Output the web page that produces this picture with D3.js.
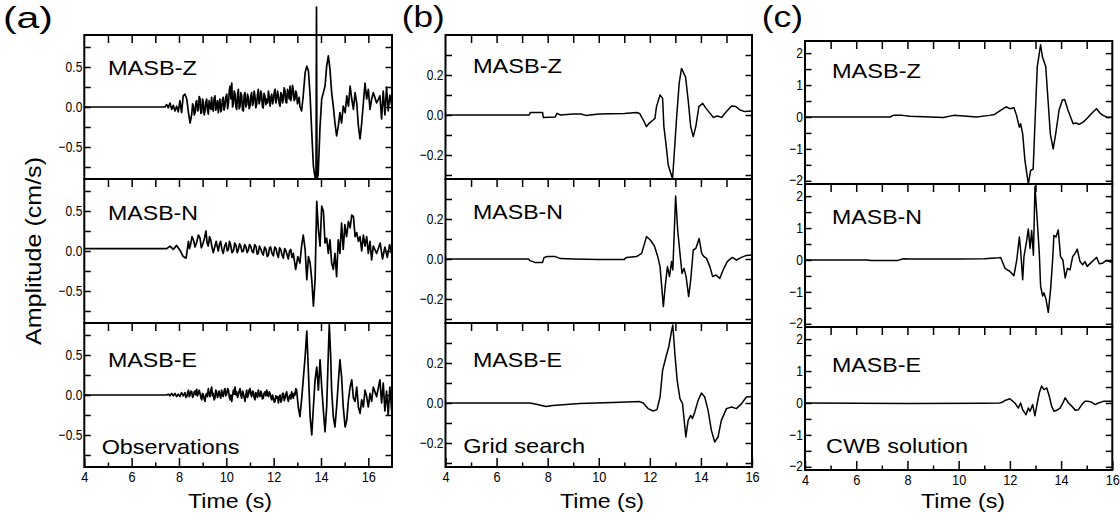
<!DOCTYPE html>
<html>
<head>
<meta charset="utf-8">
<script src="https://cdn.jsdelivr.net/npm/d3@7"></script>
<style>
  body { margin: 0; background: #fff; }
  svg { display: block; }
</style>
</head>
<body>
<script>
// ---- Station components, panel letters and captions ----
const components = ["MASB-Z", "MASB-N", "MASB-E"];
const panelLetters = ["(a)", "(b)", "(c)"];
const panelNotes = ["Observations", "Grid search", "CWB solution"];

// ---- Axis extents and ticks ----
const timeDomainA = [4, 17];
const timeDomainBC = [4, 16];
const timeMajorTicks = [4, 6, 8, 10, 12, 14, 16];
const timeMinorTicksA = [5, 7, 9, 11, 13, 15, 17];
const timeMinorTicksBC = [5, 7, 9, 11, 13, 15];

const ampDomainA = [-0.9, 0.9];
const ampTicksA = [-0.75, -0.5, -0.25, 0, 0.25, 0.5, 0.75];
const ampLabelsA = [-0.5, 0, 0.5];

const ampDomainB = [-0.32, 0.4];
const ampTicksB = [-0.3, -0.2, -0.1, 0, 0.1, 0.2, 0.3];
const ampLabelsB = [-0.2, 0, 0.2];

const ampDomainC = [-2.1, 2.38];
const ampTicksC = [-2, -1.5, -1, -0.5, 0, 0.5, 1, 1.5, 2];
const ampLabelsC = [-2, -1, 0, 1, 2];

// ---- Velocity records [time (s), amplitude (cm/s)] ----
// (a) observed
const obsZ = [[4,0],[7.41,0],[7.48,0.03],[7.55,-0.01],[7.62,0.05],[7.69,-0.03],[7.76,0.02],[7.83,-0.05],[7.9,0.01],[7.97,-0.06],[8.04,0.08],[8.11,-0.07],[8.18,0.14],[8.25,0.16],[8.33,0.1],[8.4,-0.07],[8.47,-0.2],[8.54,-0.09],
[8.575,0.04],[8.61,0.01],[8.645,-0.1],[8.68,-0.07],[8.715,0.06],[8.75,0.08],[8.785,-0.05],[8.82,-0.03],[8.855,0.13],[8.89,0.1],[8.925,-0.08],[8.96,-0.07],[8.995,0.1],[9.03,0.05],[9.065,-0.1],[9.1,-0.05],[9.135,0.06],[9.17,0.1],[9.205,-0.04],[9.24,-0.09],[9.275,0.08],[9.31,0.01],[9.345,-0.03],[9.38,0.12],[9.415,-0.02],[9.45,-0.05],[9.485,0.11],[9.52,0.14],[9.555,-0.04],[9.59,0.01],[9.625,0.08],[9.66,-0.07],[9.695,0.04],[9.73,0.1],[9.765,-0.06],[9.8,-0.03],[9.835,0.09],[9.87,0.12],[9.905,-0.04],[9.94,0.01],[9.98,0.13],[10.02,0.16],[10.055,-0.02],[10.09,0.05],[10.125,0.2],[10.16,0.26],[10.195,0.1],[10.23,0.3],[10.265,0.0],[10.3,0.05],[10.335,0.2],[10.37,0.16],[10.405,0.0],[10.44,-0.03],[10.475,0.16],[10.51,0.22],[10.545,-0.02],[10.58,0.01],[10.615,0.18],[10.65,0.14],[10.685,-0.04],[10.72,-0.05],[10.755,0.15],[10.79,0.18],[10.825,0.0],[10.86,0.03],[10.895,0.16],[10.93,0.12],[10.965,-0.02],[11.0,0.01],[11.035,0.14],[11.07,0.18],[11.105,0.02],[11.14,0.05],[11.175,0.2],[11.21,0.14],[11.245,-0.01],[11.28,0.03],[11.315,0.15],[11.35,0.22],[11.385,0.04],[11.42,0.08],[11.455,0.2],[11.49,0.16],[11.525,0.0],[11.56,-0.01],[11.595,0.17],[11.63,0.14],[11.67,0.03],[11.71,0.1],[11.745,0.05],[11.78,0.2],[11.815,0.12],[11.85,0.01],[11.885,0.12],[11.92,0.16],[11.955,0.04],[11.99,0.08],[12.025,0.19],[12.06,0.22],[12.095,0.05],[12.13,0.1],[12.165,0.2],[12.2,0.14],[12.235,0.04],[12.27,0.01],[12.305,0.18],[12.34,0.16],[12.375,0.05],[12.41,0.1],[12.445,0.24],[12.48,0.2],[12.515,0.06],[12.55,0.05],[12.585,0.22],[12.62,0.18],[12.655,0.1],[12.69,0.26],[12.725,0.08],[12.76,0.14],[12.795,0.27],[12.83,0.22],[12.865,0.08],[12.9,0.1],[12.935,0.2],[12.97,0.16],[13.005,0.04],[13.04,0.08],[13.075,0.12],[13.11,0.01],
[13.18,-0.05],[13.25,0.14],[13.33,0.43],[13.4,0.51],[13.47,0.45],[13.54,0.14],[13.61,-0.32],[13.68,-0.74],[13.75,-0.88],[13.79,-0.9],[13.81,1.25],[13.83,-0.9],[13.88,-0.85],[13.96,-0.24],[14.03,0.1],[14.1,0.18],[14.17,0.26],[14.24,0.51],[14.31,0.64],[14.38,0.47],[14.45,0.18],[14.52,0.01],[14.59,-0.2],[14.66,-0.36],[14.73,-0.24],[14.8,-0.07],[14.87,-0.2],[14.94,0.01],[15.02,-0.07],[15.09,0.14],[15.16,0.01],[15.23,0.26],[15.3,0.1],[15.37,-0.03],[15.44,0.18],[15.51,0.05],[15.58,-0.24],[15.65,-0.4],[15.72,-0.2],[15.79,0.05],[15.86,0.3],[15.93,0.1],[16.0,0.22],[16.07,-0.03],[16.14,0.1],[16.21,0.18],[16.35,0.05],[16.49,0.14],[16.56,-0.15],[16.63,0.2],[16.7,-0.1],[16.77,0.25],[16.84,-0.05],[16.91,0.15],[17.0,0.0]];

const obsN = [[4,0.03],[7.48,0.03],[7.62,0.06],[7.76,0.02],[7.9,0.07],[8.04,0.01],[8.18,-0.07],[8.3,-0.09],
[8.4,0.12],[8.445,0.03],[8.49,0.08],[8.55,0.18],[8.61,0.14],[8.68,0.05],[8.75,0.11],[8.82,0.2],[8.89,0.16],[8.945,0.04],[9.0,0.08],[9.07,0.15],[9.14,0.25],[9.19,0.1],[9.24,0.06],[9.29,0.18],[9.34,0.14],[9.395,0.05],[9.45,-0.02],[9.51,0.05],[9.57,0.12],[9.615,0.06],[9.66,0.0],[9.71,0.08],[9.76,0.12],[9.815,0.02],[9.87,-0.03],[9.93,0.06],[9.99,0.1],[10.04,0.0],[10.09,0.02],[10.135,0.12],[10.18,0.08],[10.24,-0.02],[10.3,0.0],[10.355,0.1],[10.41,0.07],[10.46,-0.02],[10.51,0.02],[10.56,0.09],[10.61,0.06],[10.665,-0.01],[10.72,0.0],[10.775,0.08],[10.83,0.05],[10.88,-0.02],[10.93,0.01],[10.98,0.08],[11.03,0.06],[11.085,0.0],[11.14,-0.02],[11.2,0.08],[11.26,0.05],[11.305,-0.04],[11.35,-0.03],[11.4,0.06],[11.45,0.03],[11.505,-0.02],[11.56,-0.05],[11.62,0.05],[11.68,0.02],[11.73,-0.07],[11.78,-0.05],[11.825,0.04],[11.87,0.05],[11.93,-0.03],[11.99,-0.06],[12.045,0.05],[12.1,0.03],[12.15,-0.04],[12.2,-0.08],[12.25,0.04],[12.3,0.02],[12.355,-0.05],[12.41,-0.09],[12.465,0.03],[12.52,0.0],[12.57,-0.05],[12.62,-0.1],[12.67,0.0],[12.72,0.02],[12.775,-0.08],[12.83,-0.03],
[12.93,-0.23],[13.02,-0.07],[13.11,-0.15],[13.18,0.06],[13.25,0.2],[13.33,0.02],[13.4,-0.36],[13.47,-0.07],[13.54,-0.15],[13.61,-0.36],[13.68,-0.69],[13.75,-0.36],[13.82,0.62],[13.89,0.27],[13.96,0.06],[14.03,0.56],[14.1,0.5],[14.17,0.1],[14.24,0.16],[14.31,-0.03],[14.38,0.14],[14.45,-0.15],[14.52,-0.23],[14.59,-0.03],[14.66,-0.32],[14.73,0.14],[14.8,-0.03],[14.87,0.35],[14.94,0.02],[15.01,0.33],[15.08,0.18],[15.16,0.37],[15.23,0.29],[15.3,0.45],[15.37,0.43],[15.44,0.18],[15.51,0.23],[15.58,0.12],[15.65,0.18],[15.72,0.0],[15.79,0.2],[15.86,0.06],[15.93,0.18],[16.0,-0.03],[16.07,0.12],[16.14,-0.11],[16.21,0.06],[16.35,-0.03],[16.5,0.1],[16.6,-0.1],[16.7,0.05],[16.8,-0.08],[16.9,0.08],[17.0,-0.05]];

const obsE = [[4,0],[7.48,0],[7.55,0.01],[7.62,-0.01],[7.69,0.02],[7.76,-0.01],[7.83,0.02],[7.9,-0.02],[7.97,0.01],[8.04,-0.02],[8.11,0.03],[8.18,-0.01],
[8.25,0.03],[8.29,-0.03],[8.33,-0.02],[8.365,0.03],[8.4,0.06],[8.435,-0.02],[8.47,0.0],[8.505,0.05],[8.54,0.04],[8.575,-0.03],[8.61,-0.01],[8.645,0.04],[8.68,0.05],[8.715,0.0],[8.75,0.07],[8.785,-0.01],[8.82,0.02],[8.855,0.06],[8.89,0.02],[8.925,-0.03],[8.96,-0.06],[8.995,0.02],[9.03,0.0],[9.065,-0.05],[9.1,-0.08],[9.135,0.0],[9.17,0.02],[9.205,-0.02],[9.24,0.08],[9.275,0.02],[9.31,-0.02],[9.345,0.05],[9.38,0.1],[9.415,-0.01],[9.45,0.02],[9.485,-0.06],[9.52,-0.04],[9.555,0.06],[9.59,0.04],[9.625,-0.03],[9.66,0.0],[9.695,0.05],[9.73,-0.01],[9.765,-0.04],[9.8,0.06],[9.835,0.0],[9.87,-0.02],[9.905,0.05],[9.94,0.08],[9.98,-0.01],[10.02,0.02],[10.055,0.08],[10.09,0.06],[10.125,-0.02],[10.16,-0.06],[10.195,0.0],[10.23,-0.08],[10.265,0.0],[10.3,0.06],[10.335,0.01],[10.37,0.1],[10.405,0.0],[10.44,0.04],[10.475,-0.03],[10.51,0.0],[10.545,0.05],[10.58,0.08],[10.615,0.0],[10.65,-0.04],[10.685,0.05],[10.72,0.02],[10.755,-0.03],[10.79,-0.08],[10.825,0.0],[10.86,0.06],[10.895,-0.03],[10.93,0.0],[10.965,0.06],[11.0,0.08],[11.035,0.01],[11.07,-0.02],[11.105,0.05],[11.14,0.04],[11.175,-0.03],[11.21,-0.06],[11.245,0.03],[11.28,0.0],[11.315,-0.03],[11.35,0.06],[11.385,0.0],[11.42,-0.02],[11.455,0.05],[11.49,0.02],[11.525,-0.05],[11.56,-0.04],[11.595,0.02],[11.63,0.04],[11.67,-0.01],[11.71,0.06],[11.745,0.0],[11.78,-0.02],[11.815,0.04],[11.85,0.02],[11.885,-0.03],[11.92,-0.06],[11.955,0.0],[11.99,-0.04],[12.025,-0.09],[12.06,-0.08],[12.095,-0.01],[12.13,-0.04],[12.165,-0.02],[12.2,-0.1],[12.235,-0.03],[12.27,0.0],[12.305,-0.09],[12.34,-0.06],[12.375,0.02],[12.41,0.02],[12.445,-0.07],[12.48,-0.04],[12.515,0.01],[12.55,0.04],[12.585,-0.04],[12.62,-0.08],[12.655,-0.02],[12.69,0.0],[12.725,-0.05],[12.76,0.04],[12.795,0.0],[12.83,-0.04],[12.865,0.02],[12.9,0.0],[12.935,0.08],[12.97,0.06],
[13.04,-0.15],[13.11,-0.27],[13.18,-0.06],[13.25,0.19],[13.33,0.48],[13.4,0.8],[13.47,0.27],[13.54,-0.27],[13.61,-0.5],[13.68,-0.15],[13.75,0.19],[13.82,0.35],[13.89,0.06],[13.96,0.44],[14.03,0.1],[14.1,-0.19],[14.17,-0.46],[14.24,-0.15],[14.31,0.52],[14.35,0.88],[14.41,0.48],[14.45,0.06],[14.52,-0.27],[14.59,-0.4],[14.66,-0.15],[14.73,0.15],[14.8,0.44],[14.87,0.23],[14.94,-0.15],[15.02,-0.4],[15.09,-0.31],[15.16,-0.06],[15.23,0.1],[15.3,0.19],[15.37,-0.04],[15.44,-0.08],[15.51,0.1],[15.58,-0.15],[15.65,-0.23],[15.72,-0.06],[15.79,-0.15],[15.86,0.06],[15.93,-0.02],[16.0,-0.15],[16.07,0.02],[16.14,-0.08],[16.21,0.1],[16.35,-0.02],[16.49,0.19],[16.56,-0.1],[16.63,0.15],[16.7,-0.2],[16.77,0.05],[16.84,-0.25],[16.91,0.1],[17.0,-0.25]];

// (b) grid-search synthetics
const gridZ = [[4,0],[7.28,0],[7.32,0.013],[7.8,0.013],[7.83,-0.012],[8.3,-0.01],[8.36,0.008],[8.5,0.0],[9.0,0.005],[9.3,0.005],[9.5,-0.002],[10.0,0.005],[11.0,0.008],[11.48,0.012],[11.6,0.008],[11.74,-0.025],[11.87,-0.058],[12.0,-0.038],[12.13,-0.025],[12.2,-0.017],[12.26,0.042],[12.4,0.1],[12.5,0.083],[12.55,-0.058],[12.63,-0.142],[12.72,-0.25],[12.89,-0.32],[13.05,-0.01],[13.15,0.16],[13.24,0.233],[13.4,0.19],[13.5,0.075],[13.6,-0.058],[13.7,-0.108],[13.8,-0.058],[13.92,0.042],[14.07,0.058],[14.2,0.033],[14.36,0.008],[14.49,-0.012],[14.64,-0.005],[14.81,-0.012],[15.0,0.017],[15.2,0.045],[15.37,0.042],[15.53,0.025],[15.72,0.017],[16.0,0.02]];

const gridN = [[4,0],[7.25,0],[7.3,-0.008],[7.5,-0.017],[7.8,-0.017],[7.86,0.008],[8.0,0.012],[8.3,0.012],[8.5,0.002],[9.0,0.0],[10.0,-0.003],[11.0,-0.002],[11.09,0.008],[11.48,0.012],[11.68,0.028],[11.87,0.112],[12.02,0.095],[12.18,0.065],[12.31,0.012],[12.4,-0.038],[12.53,-0.238],[12.6,-0.138],[12.69,-0.038],[12.77,-0.088],[12.85,-0.013],[12.9,-0.055],[13.01,0.315],[13.09,0.145],[13.18,0.028],[13.26,-0.072],[13.34,-0.047],[13.42,-0.088],[13.52,-0.188],[13.6,-0.105],[13.7,0.045],[13.8,0.053],[13.93,0.103],[14.03,0.028],[14.12,0.012],[14.22,0.003],[14.35,-0.038],[14.46,-0.088],[14.59,-0.08],[14.74,-0.097],[14.87,-0.055],[15.03,-0.013],[15.23,0.008],[15.39,-0.005],[15.59,0.008],[15.78,0.018],[16.0,0.02]];

const gridE = [[4,0],[7.3,0],[7.6,-0.008],[7.93,-0.017],[8.2,-0.012],[9.25,-0.003],[10.55,0.003],[11.6,0.007],[11.74,0.0],[11.93,-0.028],[12.13,-0.04],[12.28,-0.033],[12.4,0.03],[12.5,0.163],[12.63,0.23],[12.74,0.28],[12.85,0.36],[12.9,0.39],[12.98,0.247],[13.07,0.113],[13.18,0.022],[13.28,-0.003],[13.41,-0.17],[13.5,-0.087],[13.6,-0.062],[13.67,-0.078],[13.76,-0.045],[13.89,0.013],[14.02,0.05],[14.15,0.03],[14.28,-0.037],[14.41,-0.137],[14.54,-0.195],[14.67,-0.17],[14.8,-0.087],[15.0,-0.028],[15.2,-0.02],[15.39,-0.028],[15.59,-0.003],[15.78,0.03],[16.0,0.033]];

// (c) CWB solution synthetics
const cwbZ = [[4,0],[7.32,0],[7.45,0.05],[7.8,0.05],[8.1,0.02],[8.9,0.0],[9.4,-0.02],[9.8,0.05],[10.2,0.03],[10.7,0.0],[11.2,0.05],[11.4,0.08],[11.85,0.32],[12.0,0.26],[12.16,0.29],[12.26,0.05],[12.37,-0.32],[12.42,-0.21],[12.5,-0.53],[12.59,-1.37],[12.72,-2.1],[12.81,-1.68],[12.91,-1.63],[12.99,0],[13.07,1.58],[13.2,2.26],[13.27,1.89],[13.4,1.58],[13.49,0.53],[13.58,-0.53],[13.69,-1.0],[13.79,-0.53],[13.92,0.21],[14.05,0.53],[14.14,0.55],[14.27,0.21],[14.36,0.02],[14.47,-0.21],[14.57,-0.19],[14.7,-0.23],[14.86,-0.16],[15.01,-0.05],[15.18,0.1],[15.38,0.26],[15.51,0.13],[15.64,0.05],[15.83,-0.02],[16.0,0]];

const cwbN = [[4,0],[6.4,0],[6.6,-0.02],[7.6,-0.02],[7.84,0.04],[8.1,0.03],[10.0,0.03],[11.0,0.04],[11.56,0.07],[11.64,0.08],[11.81,-0.26],[12.0,-0.36],[12.16,-0.49],[12.27,0],[12.37,0.72],[12.42,0.31],[12.5,-0.62],[12.55,0.1],[12.66,0.62],[12.72,0.97],[12.79,0.36],[12.85,0.92],[12.92,0.15],[12.98,2.3],[13.07,1.23],[13.15,0.2],[13.2,-0.82],[13.28,-1.13],[13.33,-1.03],[13.41,-1.23],[13.5,-1.64],[13.59,-0.92],[13.67,0],[13.72,0.77],[13.8,0.72],[13.89,0.94],[13.98,0.1],[14.07,0],[14.16,-0.56],[14.25,-0.26],[14.35,-0.31],[14.45,0.1],[14.54,0.2],[14.63,0.34],[14.74,-0.05],[14.84,-0.15],[14.93,-0.05],[15.02,-0.2],[15.15,-0.1],[15.28,0],[15.39,0.08],[15.49,-0.12],[15.62,-0.1],[15.75,-0.02],[15.88,-0.05],[16.0,-0.08]];

const cwbE = [[4,0],[8.0,-0.02],[11.0,-0.01],[11.6,0.0],[11.7,0.02],[11.81,0.08],[12.0,0.13],[12.2,0.0],[12.33,-0.16],[12.42,0.0],[12.5,-0.21],[12.63,-0.37],[12.72,-0.16],[12.79,-0.26],[12.89,-0.05],[12.98,-0.4],[13.07,0.0],[13.15,0.32],[13.24,0.53],[13.33,0.42],[13.44,0.47],[13.54,0.21],[13.63,-0.1],[13.72,-0.26],[13.83,-0.23],[13.96,-0.16],[14.07,0.0],[14.16,0.16],[14.29,0.0],[14.42,-0.1],[14.55,-0.23],[14.68,-0.21],[14.81,-0.05],[14.93,0.05],[15.07,0.05],[15.2,0.02],[15.33,-0.05],[15.46,0.0],[15.65,0.05],[16.0,0.05]];

// ---- Panel definitions built from the arrays above ----
const panels = [
  { traces: [obsZ, obsN, obsE], timeDomain: timeDomainA, minor: timeMinorTicksA,
    ampDomain: ampDomainA, ampTicks: ampTicksA, ampLabels: ampLabelsA, fmt: d3.format(".1f") },
  { traces: [gridZ, gridN, gridE], timeDomain: timeDomainBC, minor: timeMinorTicksBC,
    ampDomain: ampDomainB, ampTicks: ampTicksB, ampLabels: ampLabelsB, fmt: d3.format(".1f") },
  { traces: [cwbZ, cwbN, cwbE], timeDomain: timeDomainBC, minor: timeMinorTicksBC,
    ampDomain: ampDomainC, ampTicks: ampTicksC, ampLabels: ampLabelsC, fmt: d3.format("d") }
];

// ---- Page geometry ----
const W = 1120, H = 523;
const frames = [
  { left: 84.3, right: 392, top: 35, rowH: 144, labelX: 108, labelBase: [75, 220, 367], noteX: 101.7, noteBase: 454, noteLen: 137.7,
    letterX: 3, letterBase: 28, letterLen: 50, timeX: 230 },
  { left: 445.5, right: 752, top: 35, rowH: 144, labelX: 473, labelBase: [73, 219, 367], noteX: 463.3, noteBase: 453, noteLen: 121.7,
    letterX: 401.7, letterBase: 27, letterLen: 43, timeX: 602 },
  { left: 805, right: 1112.3, top: 41, rowH: 143, labelX: 832, labelBase: [78, 224, 372], noteX: 826, noteBase: 453, noteLen: 142,
    letterX: 761.7, letterBase: 27, letterLen: 41.3, timeX: 963 }
];
const labelLens = [89, 90, 89];

const svg = d3.select("body").append("svg")
  .attr("width", W).attr("height", H)
  .attr("font-family", "'Liberation Sans', Arial, Helvetica, sans-serif");

const tickFont = "'Liberation Sans', Arial, sans-serif";

function styleAxis(g, size = 15, squeeze = 0.8) {
  g.attr("font-family", null).attr("font-size", null);
  g.select(".domain").remove();
  g.selectAll(".tick line").attr("stroke", "#000").attr("stroke-width", 1.5);
  g.selectAll(".tick text").attr("fill", "#000")
    .attr("transform", `scale(${squeeze},1)`)
    .style("font-family", tickFont).style("font-size", size + "px");
}

panels.forEach((p, pi) => {
  const f = frames[pi];
  const gp = svg.append("g");
  const x = d3.scaleLinear().domain(p.timeDomain).range([f.left, f.right]);

  p.traces.forEach((trace, ri) => {
    const top = f.top + ri * f.rowH;
    const bottom = top + f.rowH;
    const y = d3.scaleLinear().domain(p.ampDomain).range([bottom, top]);
    const g = gp.append("g");

    // left axis: inward ticks with labels outside
    g.append("g").attr("transform", `translate(${f.left},0)`)
      .call(d3.axisLeft(y).tickValues(p.ampTicks).tickSizeInner(-6.5).tickSizeOuter(0).tickPadding(2.5)
        .tickFormat(d => p.ampLabels.includes(d) ? p.fmt(d) : ""))
      .call(a => styleAxis(a, 15, 0.8))
      // labels sitting on a row boundary are nudged into their own row
      .call(a => a.selectAll(".tick text").attr("y", d => {
        const py = y(d);
        if (py - top < 12) return 1.5;
        if (bottom - py < 12) return -1.5;
        return 0;
      }));

    // right axis: inward ticks
    g.append("g").attr("transform", `translate(${f.right},0)`)
      .call(d3.axisRight(y).tickValues(p.ampTicks).tickSizeInner(-6.5).tickSizeOuter(0).tickFormat(() => ""))
      .call(a => styleAxis(a));

    // top axis: inward ticks every second
    g.append("g").attr("transform", `translate(0,${top})`)
      .call(d3.axisTop(x).tickValues(timeMajorTicks.concat(p.minor).filter(t => t > p.timeDomain[0] && t < p.timeDomain[1]))
        .tickSizeInner(-8).tickSizeOuter(0).tickFormat(() => ""))
      .call(a => styleAxis(a));

    // trace
    const line = d3.line().x(d => x(d[0])).y(d => y(d[1]));
    g.append("path").datum(trace)
      .attr("d", line)
      .attr("fill", "none")
      .attr("stroke", "#000")
      .attr("stroke-width", pi === 0 ? 1.7 : 1.5)
      .attr("stroke-linejoin", "round");

    // frame
    g.append("rect")
      .attr("x", f.left).attr("y", top)
      .attr("width", f.right - f.left).attr("height", f.rowH)
      .attr("fill", "none").attr("stroke", "#000").attr("stroke-width", 2);

    // component label
    g.append("text")
      .attr("x", f.labelX).attr("y", f.labelBase[ri])
      .attr("font-size", 21).attr("fill", "#000")
      .attr("textLength", labelLens[ri]).attr("lengthAdjust", "spacingAndGlyphs")
      .text(components[ri]);

    // bottom time axis on last row
    if (ri === p.traces.length - 1) {
      g.append("g").attr("transform", `translate(0,${bottom})`)
        .call(d3.axisBottom(x).tickValues(timeMajorTicks).tickSizeInner(-9).tickSizeOuter(0).tickPadding(4)
          .tickFormat(d3.format("d")))
        .call(a => styleAxis(a, 15, 0.85));
      g.append("g").attr("transform", `translate(0,${bottom})`)
        .call(d3.axisBottom(x).tickValues(p.minor.filter(t => t < p.timeDomain[1])).tickSizeInner(-4.5).tickSizeOuter(0)
          .tickFormat(() => ""))
        .call(a => styleAxis(a));

      g.append("text")
        .attr("x", f.noteX).attr("y", f.noteBase)
        .attr("font-size", 21).attr("fill", "#000")
        .attr("textLength", f.noteLen).attr("lengthAdjust", "spacingAndGlyphs")
        .text(panelNotes[pi]);
    }
  });

  // panel letter
  gp.append("text")
    .attr("x", f.letterX).attr("y", f.letterBase)
    .attr("font-size", 30).attr("fill", "#000")
    .attr("textLength", f.letterLen).attr("lengthAdjust", "spacingAndGlyphs")
    .text(panelLetters[pi]);

  // time axis title
  gp.append("text")
    .attr("x", f.timeX).attr("y", 508)
    .attr("text-anchor", "middle")
    .attr("font-size", 21).attr("fill", "#000")
    .attr("textLength", 84).attr("lengthAdjust", "spacingAndGlyphs")
    .text("Time (s)");
});

// amplitude axis title
svg.append("text")
  .attr("transform", "translate(41,251) rotate(-90)")
  .attr("text-anchor", "middle")
  .attr("font-size", 22).attr("fill", "#000")
  .attr("textLength", 188).attr("lengthAdjust", "spacingAndGlyphs")
  .text("Amplitude (cm/s)");
</script>
</body>
</html>
